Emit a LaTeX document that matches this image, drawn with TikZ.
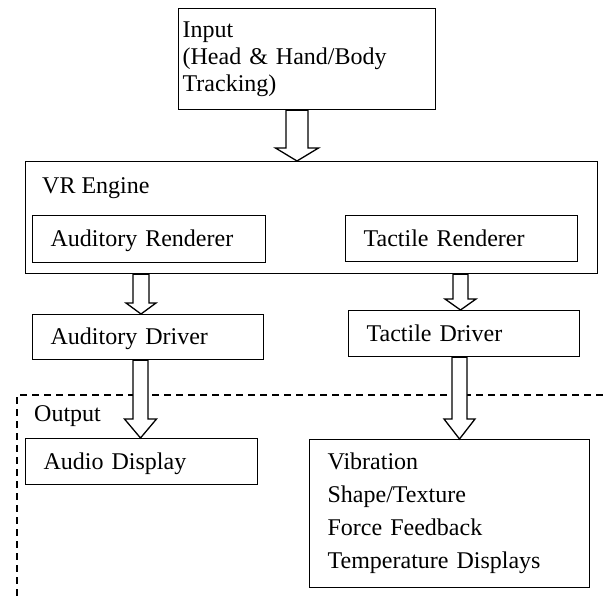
\documentclass[tikz,border=0pt]{standalone}
\usepackage{fontspec}
\setmainfont{Liberation Serif}
\usetikzlibrary{calc}
\begin{document}
\begin{tikzpicture}[x=1pt,y=-1pt,
  every node/.style={font=\fontsize{24}{27}\selectfont},
  box/.style={draw, line width=1.3pt, anchor=north west, inner xsep=18pt,
    inner ysep=0pt, align=left},
  oneline/.style={text height=18pt, text depth=3pt},
  lbl/.style={anchor=base west, inner sep=0pt},
  frame/.style={line width=1.3pt, dash pattern=on 7pt off 5pt},
  % hollow block arrow: {shaft half width}{head half width}{head length}
  hollow/.style n args={3}{draw, line width=1.3pt, fill=white, line join=miter,
    to path={let \p1=(\tikztostart), \p2=(\tikztotarget) in
      (\x1-#1,\y1) -- (\x1-#1,\y2+#3) -- (\x1-#2,\y2+#3) -- (\x1,\y2)
      -- (\x1+#2,\y2+#3) -- (\x1+#1,\y2+#3) -- (\x1+#1,\y1) -- cycle}}
]
\useasboundingbox (0,0) rectangle (603,597);

% output region
\draw[frame] (603,395) -| (17,597);

% boxes
\node[box, minimum height=101, text width=249pt, inner xsep=4pt] (inp) at (178,8)
  {Input\\(Head \& Hand/Body\\Tracking)};
\node[box, minimum width=572, minimum height=112] (vr) at (25,161) {};
\node[lbl] (vrl) at (42,193) {VR Engine};
\node[box, oneline, minimum height=47, text width=197pt] (ar) at (32,215) {Auditory Renderer};
\node[box, oneline, minimum height=46, text width=196pt] (tr) at (345,215) {Tactile Renderer};
\node[box, oneline, minimum height=45, text width=195pt] (ad) at (32,314) {Auditory Driver};
\node[box, oneline, minimum height=46, text width=195pt] (td) at (348,310) {Tactile Driver};
\node[lbl] (outl) at (34,421) {Output};
\node[box, oneline, minimum height=46, text width=196pt] (aud) at (25,438) {Audio Display};
\node[box, minimum height=148, text width=244pt, font=\fontsize{24}{33}\selectfont] (tac) at (309,439)
  {Vibration\\Shape/Texture\\Force Feedback\\Temperature Displays};

% block arrows
\draw[hollow={11pt}{21.5pt}{13pt}] ([xshift=119pt]inp.south west) to (vr.north);
\draw[hollow={8pt}{15pt}{11pt}] ([xshift=116pt]vr.south west) to (ad.north);
\draw[hollow={7.5pt}{15.5pt}{11pt}] ([xshift=435.5pt]vr.south west) to (td.north);
\draw[hollow={7.5pt}{16pt}{19pt}] ([xshift=108.5pt]ad.south west) to (aud.north);
\draw[hollow={7.5pt}{15.5pt}{20pt}] ([xshift=111.5pt]td.south west) to (tac.north);
\end{tikzpicture}
\end{document}
